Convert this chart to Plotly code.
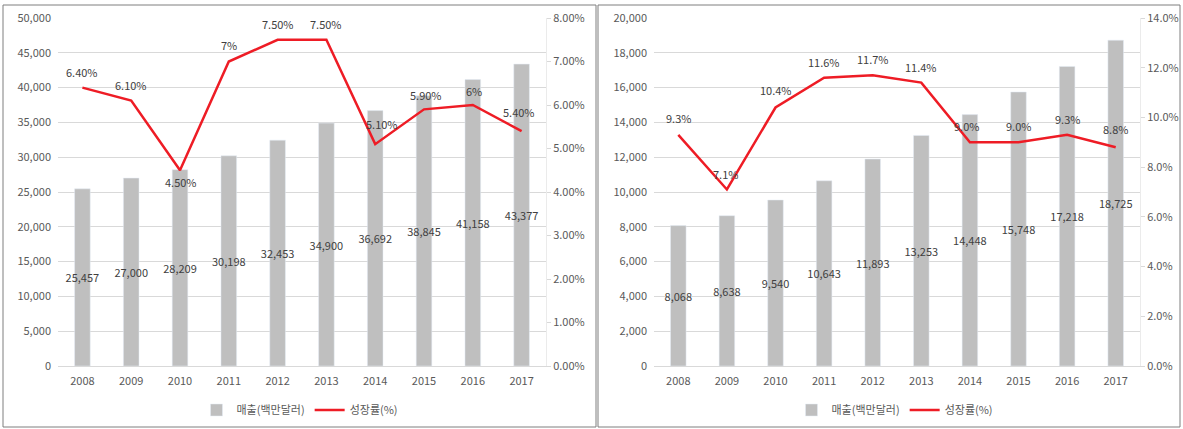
import plotly.graph_objects as go

years = ["2008", "2009", "2010", "2011", "2012", "2013", "2014", "2015", "2016", "2017"]

sales_left = [25457, 27000, 28209, 30198, 32453, 34900, 36692, 38845, 41158, 43377]
growth_left = [6.4, 6.1, 4.5, 7.0, 7.5, 7.5, 5.1, 5.9, 6.0, 5.4]
growth_left_labels = ["6.40%", "6.10%", "4.50%", "7%", "7.50%", "7.50%", "5.10%", "5.90%", "6%", "5.40%"]

sales_right = [8068, 8638, 9540, 10643, 11893, 13253, 14448, 15748, 17218, 18725]
growth_right = [9.3, 7.1, 10.4, 11.6, 11.7, 11.4, 9.0, 9.0, 9.3, 8.8]
growth_right_labels = ["9.3%", "7.1%", "10.4%", "11.6%", "11.7%", "11.4%", "9.0%", "9.0%", "9.3%", "8.8%"]

bar_name = "매출(백만달러)"
line_name = "성장률(%)"

FONT = "Noto Sans CJK KR"
BAR_C = "#BFBFBF"
LINE_C = "#EE1C25"
TXT = "#404040"
TICK = "#595959"
GRID = "#D9D9D9"

# label offsets (pixels) for the growth-rate labels
left_shift_y = [16, 16, -12, 17, 16, 16, 20, 14, 14, 19]
left_shift_x = [0, 0, 1, 0, 0, 0, 7, 2, 1, -3]
right_shift_y = [17, 16, 17, 16, 16, 16, 16, 16, 16, 18]
right_shift_x = [0, -1, 0, 0, 0, 0, -3, 0, 0, 0]

fig = go.Figure()

fig.add_trace(go.Bar(
    x=years, y=sales_left, name=bar_name, marker_color=BAR_C, width=0.32,
    texttemplate="%{y:,}", textposition="inside", insidetextanchor="middle",
    textangle=0, constraintext="none",
    textfont=dict(color=TXT, size=11, family=FONT),
    xaxis="x", yaxis="y", legend="legend"))
fig.add_trace(go.Scatter(
    x=years, y=growth_left, name=line_name, mode="lines",
    line=dict(color=LINE_C, width=2.5),
    xaxis="x", yaxis="y2", legend="legend"))

fig.add_trace(go.Bar(
    x=years, y=sales_right, name=bar_name, marker_color=BAR_C, width=0.32,
    texttemplate="%{y:,}", textposition="inside", insidetextanchor="middle",
    textangle=0, constraintext="none",
    textfont=dict(color=TXT, size=11, family=FONT),
    xaxis="x2", yaxis="y3", legend="legend2"))
fig.add_trace(go.Scatter(
    x=years, y=growth_right, name=line_name, mode="lines",
    line=dict(color=LINE_C, width=2.5),
    xaxis="x2", yaxis="y4", legend="legend2"))

# annotations on category axes use the category index
annotations = []
for i, (v, lab, dx, dy) in enumerate(zip(growth_left, growth_left_labels, left_shift_x, left_shift_y)):
    annotations.append(dict(x=i, y=v, xref="x", yref="y2", text=lab, showarrow=False,
                            xshift=dx, yshift=dy, font=dict(color=TXT, size=11, family=FONT)))
for i, (v, lab, dx, dy) in enumerate(zip(growth_right, growth_right_labels, right_shift_x, right_shift_y)):
    annotations.append(dict(x=i, y=v, xref="x2", yref="y4", text=lab, showarrow=False,
                            xshift=dx, yshift=dy, font=dict(color=TXT, size=11, family=FONT)))

W, H = 1183, 429
ydom = [1 - 366 / H, 1 - 18 / H]
xdom1 = [58 / W, 546 / W]
xdom2 = [654 / W, 1140 / W]

tickfont = dict(color=TICK, size=11, family=FONT)

fig.update_layout(
    width=W, height=H,
    margin=dict(l=0, r=0, t=0, b=0, autoexpand=False),
    paper_bgcolor="white", plot_bgcolor="white",
    font=dict(family=FONT, color=TICK),
    annotations=annotations,
    xaxis=dict(domain=xdom1, anchor="y", type="category", tickfont=tickfont,
               range=[-0.5, len(years) - 0.5],
               showline=True, linecolor=GRID, linewidth=1, showgrid=False,
               ticklabelstandoff=5),
    yaxis=dict(domain=ydom, anchor="x", range=[0, 50000], dtick=5000, tickformat=",",
               tickfont=tickfont, showgrid=True, gridcolor=GRID, zeroline=False,
               ticklabelstandoff=6),
    yaxis2=dict(overlaying="y", side="right", anchor="x", range=[0, 8], dtick=1,
                tickformat=".2f", ticksuffix="%", tickfont=tickfont, showgrid=False,
                zeroline=False, ticks="outside", ticklen=4, tickcolor=GRID,
                showline=True, linecolor="#EBEBEB", linewidth=1),
    xaxis2=dict(domain=xdom2, anchor="y3", type="category", tickfont=tickfont,
                range=[-0.5, len(years) - 0.5],
                showline=True, linecolor=GRID, linewidth=1, showgrid=False,
                ticklabelstandoff=5),
    yaxis3=dict(domain=ydom, anchor="x2", range=[0, 20000], dtick=2000, tickformat=",",
                tickfont=tickfont, showgrid=True, gridcolor=GRID, zeroline=False,
                ticklabelstandoff=6),
    yaxis4=dict(overlaying="y3", side="right", anchor="x2", range=[0, 14], dtick=2,
                tickformat=".1f", ticksuffix="%", tickfont=tickfont, showgrid=False,
                zeroline=False, ticks="outside", ticklen=4, tickcolor=GRID,
                showline=True, linecolor="#EBEBEB", linewidth=1),
    legend=dict(orientation="h", x=300 / W, xanchor="center", y=1 - 410 / H, yanchor="middle",
                font=dict(size=11, color=TICK, family=FONT), bgcolor="rgba(0,0,0,0)",
                itemwidth=30, tracegroupgap=0),
    legend2=dict(orientation="h", x=895 / W, xanchor="center", y=1 - 410 / H, yanchor="middle",
                 font=dict(size=11, color=TICK, family=FONT), bgcolor="rgba(0,0,0,0)",
                 itemwidth=30, tracegroupgap=0),
    shapes=[
        dict(type="rect", xref="paper", yref="paper", x0=3 / W, x1=596 / W,
             y0=1 - 427 / H, y1=1 - 5 / H, line=dict(color="#7F7F7F", width=1)),
        dict(type="rect", xref="paper", yref="paper", x0=598 / W, x1=1180 / W,
             y0=1 - 427 / H, y1=1 - 5 / H, line=dict(color="#7F7F7F", width=1)),
    ],
)

fig.write_html("out.html",
               config={"displayModeBar": False},
               post_script="document.body.style.margin='0';document.body.style.padding='0';")
